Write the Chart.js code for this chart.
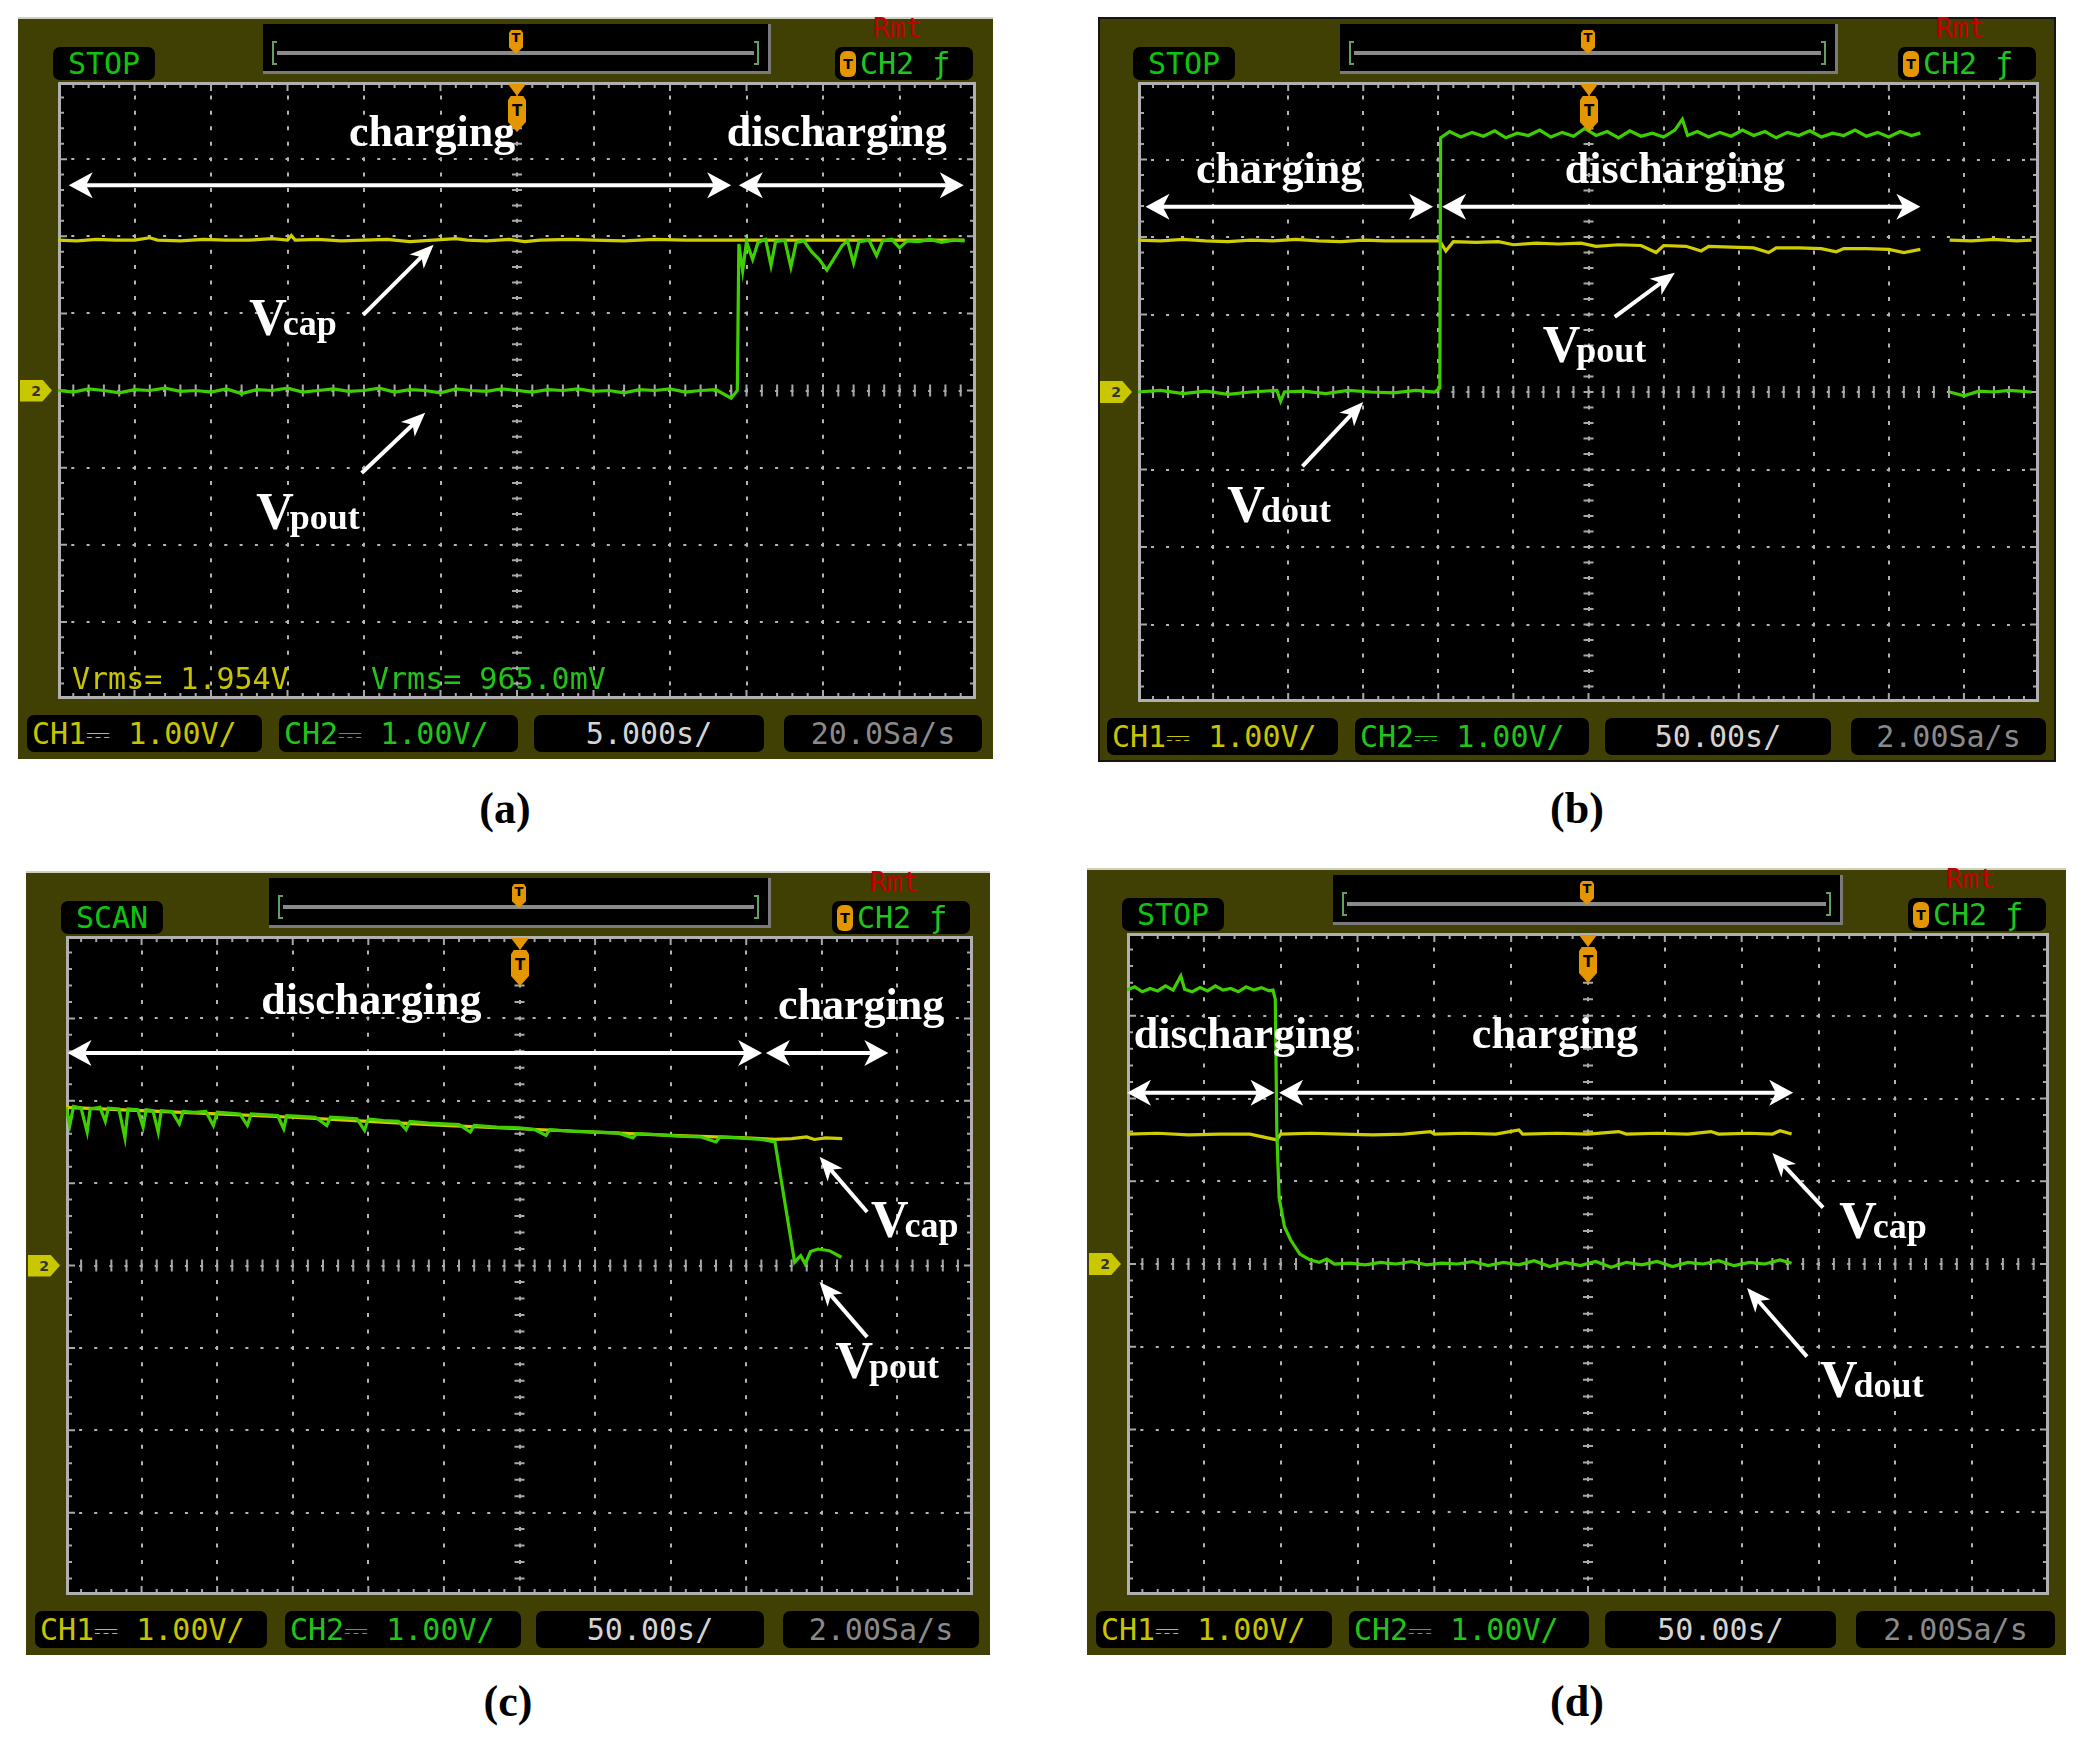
<!DOCTYPE html>
<html>
<head>
<meta charset="utf-8">
<script src="https://cdn.jsdelivr.net/npm/chart.js@4.4.1/dist/chart.umd.min.js"></script>
<style>
  html, body { margin: 0; padding: 0; background: #fff; }
  #page { position: relative; width: 2084px; height: 1744px; overflow: hidden; }
  .frame { position: absolute; background: #403f04; box-sizing: border-box; border-top: 2px solid #cfcfc0; }
  .frame.dark { border: 2px solid #151515; }
  .box { position: absolute; background: #000; border-radius: 7px; box-sizing: border-box; display: flex; align-items: center;
         font-family: "DejaVu Sans Mono", monospace; font-size: 30px; white-space: pre; overflow: hidden; padding-left: 5px; }
  .box.mid { justify-content: center; padding-left: 0; }
  .bar { position: absolute; background: #000; box-sizing: border-box; border-right: 3px solid #7a7a7a; border-bottom: 3px solid #7a7a7a; }
  .bar-line { position: absolute; left: 14px; right: 14px; top: 27px; height: 4px; background: #8a8a8a; }
  .bar-br { position: absolute; top: 17px; width: 5px; height: 24px; box-sizing: border-box; border: 2px solid #64a064; }
  .bar-br.l { left: 9px; border-right: none; }
  .bar-br.r { right: 9px; border-left: none; }
  .tmark { position: absolute; background: #e39600; color: #000; font: bold 13px "DejaVu Sans"; text-align: center;
           clip-path: polygon(15% 0, 85% 0, 100% 12%, 100% 72%, 50% 100%, 0 72%, 0 12%); }
  .tri { position: absolute; background: #e39600; clip-path: polygon(0 0, 100% 0, 50% 100%); }
  .ticon { display: inline-block; width: 16px; height: 26px; border-radius: 6px; background: #e39600; color: #000;
           font: bold 14px "DejaVu Sans"; text-align: center; line-height: 26px; margin-right: 4px; }
  .chmark { position: absolute; background: #c9c700; color: #333; font: bold 14px "DejaVu Sans"; line-height: 22px; text-align: center;
            clip-path: polygon(0 0, 70% 0, 100% 50%, 70% 100%, 0 100%); }
  .rmt { position: absolute; color: #c40000; font: 27px "DejaVu Sans Mono"; }
  .rms { position: absolute; font: 30px "DejaVu Sans Mono"; white-space: pre; }
  .cap { position: absolute; font: bold 44px "Liberation Serif"; color: #000; transform: translate(-50%, -50%); }
  canvas.scr { position: absolute; background: #000; }
</style>
</head>
<body>
<div id="page"></div>
<script>
"use strict";

// x in screen divisions (0..12), y in volts (1.00 V/div, 0 V at screen centre)
const A_VCAP = [[0.00,1.95],[0.25,1.94],[0.50,1.96],[0.75,1.95],[1.00,1.95],[1.20,1.98],[1.30,1.95],[1.60,1.94],[1.90,1.96],[2.20,1.95],
  [2.50,1.95],[2.80,1.97],[3.00,1.95],[3.05,2.01],[3.10,1.95],[3.40,1.96],[3.70,1.94],[4.00,1.95],[4.30,1.96],[4.60,1.93],[4.90,1.95],
  [5.20,1.97],[5.35,1.95],[5.60,1.94],[5.90,1.96],[6.10,1.93],[6.30,1.95],[6.70,1.96],[7.00,1.95],[7.40,1.94],[7.80,1.96],[8.20,1.95],
  [8.50,1.95],[8.85,1.95],[9.40,1.95],[10.00,1.95],[10.60,1.95],[11.20,1.95],[11.85,1.95]];
const A_VPOUT = [[0.00,0.00],[0.20,-0.02],[0.40,0.02],[0.60,0.00],[0.80,-0.03],[1.00,0.01],[1.20,0.00],[1.40,0.03],[1.60,-0.01],[1.80,0.00],
  [2.00,-0.02],[2.20,0.02],[2.40,-0.04],[2.60,0.01],[2.80,0.00],[3.00,0.03],[3.20,-0.02],[3.40,0.00],[3.60,0.02],[3.80,-0.01],[4.00,0.00],
  [4.20,0.03],[4.40,-0.02],[4.60,0.01],[4.80,0.00],[5.00,-0.03],[5.20,0.02],[5.40,0.00],[5.60,-0.01],[5.80,0.02],[6.00,0.00],[6.20,-0.02],
  [6.40,0.01],[6.60,0.00],[6.80,0.02],[7.00,-0.01],[7.20,0.00],[7.40,-0.03],[7.60,0.01],[7.80,0.00],[8.00,0.02],[8.20,-0.02],[8.40,0.00],
  [8.60,0.01],[8.80,-0.10],[8.88,0.00],[8.90,1.90],[8.95,1.55],[9.00,1.93],[9.08,1.70],[9.15,1.92],[9.25,1.96],[9.32,1.62],[9.38,1.93],
  [9.50,1.95],[9.58,1.60],[9.65,1.92],[9.75,1.94],[9.85,1.80],[9.95,1.70],[10.05,1.56],[10.15,1.72],[10.25,1.88],[10.32,1.94],[10.40,1.65],
  [10.47,1.93],[10.60,1.95],[10.70,1.75],[10.78,1.94],[10.90,1.96],[11.00,1.85],[11.10,1.94],[11.25,1.93],[11.40,1.96],[11.55,1.92],
  [11.70,1.95],[11.85,1.94]];

const B_VCAP = [[0.00,1.96],[0.30,1.95],[0.60,1.97],[0.90,1.95],[1.20,1.94],[1.50,1.96],[1.80,1.95],[2.10,1.97],[2.40,1.95],[2.70,1.94],
  [3.00,1.96],[3.30,1.95],[3.60,1.95],[4.02,1.95],[4.10,1.82],[4.20,1.94],[4.50,1.93],[4.80,1.94],[5.00,1.90],[5.30,1.92],[5.60,1.91],
  [5.90,1.92],[6.10,1.88],[6.40,1.90],[6.70,1.89],[6.90,1.80],[7.00,1.89],[7.30,1.88],[7.50,1.82],[7.60,1.88],[7.90,1.87],[8.20,1.86],
  [8.40,1.80],[8.50,1.86],[8.80,1.86],[9.10,1.85],[9.30,1.81],[9.40,1.85],[9.70,1.85],[10.00,1.84],[10.20,1.80],[10.42,1.84],[10.60,null],
  [10.81,1.96],[11.10,1.95],[11.40,1.97],[11.70,1.95],[11.90,1.96]];
const B_VDOUT = [[0.00,0.00],[0.30,0.02],[0.60,-0.02],[0.90,0.01],[1.20,-0.03],[1.50,0.00],[1.85,0.02],[1.90,-0.12],[1.95,0.00],[2.20,0.01],
  [2.50,-0.02],[2.80,0.02],[3.10,0.00],[3.40,-0.01],[3.70,0.02],[3.95,0.00],[4.02,0.05],[4.03,3.28],[4.15,3.36],[4.30,3.29],[4.45,3.35],
  [4.60,3.30],[4.75,3.37],[4.90,3.28],[5.05,3.34],[5.20,3.31],[5.35,3.38],[5.50,3.29],[5.65,3.35],[5.80,3.30],[5.95,3.40],[6.10,3.31],
  [6.25,3.36],[6.40,3.28],[6.55,3.37],[6.70,3.30],[6.85,3.34],[7.00,3.29],[7.15,3.38],[7.25,3.52],[7.32,3.31],[7.45,3.36],[7.60,3.29],
  [7.75,3.35],[7.90,3.30],[8.05,3.38],[8.20,3.31],[8.35,3.36],[8.50,3.28],[8.65,3.35],[8.80,3.31],[8.95,3.37],[9.10,3.29],[9.25,3.34],
  [9.40,3.31],[9.55,3.38],[9.70,3.30],[9.85,3.35],[10.00,3.29],[10.15,3.36],[10.30,3.31],[10.42,3.34],[10.60,null],[10.81,0.00],
  [11.00,-0.05],[11.20,0.01],[11.40,0.00],[11.60,0.02],[11.90,0.00]];

const C_VCAP = [[0.00,1.92],[1.00,1.88],[2.00,1.84],[3.00,1.80],[4.00,1.75],[5.00,1.70],[6.00,1.66],[7.00,1.62],[8.00,1.58],[9.00,1.55],
  [9.38,1.53],[9.60,1.54],[9.80,1.56],[9.90,1.53],[10.05,1.55],[10.27,1.54]];
const C_VPOUT = [[0.00,1.92],[0.05,1.70],[0.10,1.93],[0.20,1.91],[0.28,1.62],[0.32,1.90],[0.45,1.92],[0.52,1.75],[0.56,1.91],[0.70,1.90],
  [0.78,1.55],[0.82,1.90],[0.95,1.89],[1.02,1.68],[1.06,1.89],[1.15,1.88],[1.22,1.62],[1.26,1.88],[1.40,1.87],[1.50,1.72],[1.55,1.87],
  [1.70,1.86],[1.85,1.87],[1.95,1.70],[2.00,1.86],[2.15,1.85],[2.30,1.84],[2.40,1.70],[2.45,1.84],[2.65,1.83],[2.80,1.82],[2.88,1.66],
  [2.92,1.82],[3.10,1.81],[3.30,1.80],[3.45,1.70],[3.50,1.80],[3.70,1.79],[3.85,1.78],[3.95,1.64],[4.00,1.78],[4.20,1.76],[4.40,1.75],
  [4.50,1.65],[4.55,1.75],[4.80,1.73],[5.00,1.72],[5.20,1.71],[5.35,1.62],[5.40,1.70],[5.70,1.68],[6.00,1.67],[6.20,1.65],[6.35,1.58],
  [6.40,1.65],[6.70,1.63],[7.00,1.62],[7.30,1.61],[7.50,1.55],[7.55,1.60],[7.80,1.59],[8.10,1.57],[8.40,1.56],[8.60,1.50],[8.65,1.56],
  [8.90,1.55],[9.20,1.53],[9.38,1.50],[9.64,0.04],[9.72,0.12],[9.78,0.02],[9.85,0.17],[9.95,0.20],[10.10,0.18],[10.26,0.10]];

const D_VCAP = [[0.00,1.57],[0.40,1.58],[0.80,1.56],[1.20,1.57],[1.60,1.57],[1.95,1.50],[2.00,1.57],[2.40,1.58],[2.80,1.57],[3.20,1.56],
  [3.60,1.57],[3.95,1.60],[4.00,1.57],[4.40,1.58],[4.80,1.57],[5.10,1.62],[5.15,1.57],[5.60,1.58],[6.00,1.57],[6.40,1.60],[6.50,1.57],
  [6.90,1.58],[7.30,1.57],[7.60,1.60],[7.70,1.57],[8.10,1.58],[8.40,1.57],[8.50,1.61],[8.65,1.57]];
const D_VDOUT = [[0.00,3.31],[0.10,3.35],[0.20,3.29],[0.30,3.33],[0.40,3.30],[0.50,3.36],[0.60,3.31],[0.70,3.48],[0.75,3.32],[0.85,3.29],
  [0.95,3.34],[1.05,3.30],[1.15,3.36],[1.25,3.31],[1.35,3.33],[1.45,3.29],[1.55,3.35],[1.65,3.31],[1.75,3.34],[1.85,3.30],[1.90,3.31],
  [1.93,3.20],[1.95,1.60],[1.98,0.80],[2.05,0.45],[2.13,0.29],[2.25,0.12],[2.38,0.05],[2.50,0.02],[2.60,0.06],[2.70,0.00],[2.90,0.01],
  [3.10,-0.01],[3.30,0.02],[3.50,0.00],[3.70,0.03],[3.90,-0.01],[4.10,0.01],[4.30,0.00],[4.50,0.03],[4.70,-0.02],[4.90,0.02],[5.10,-0.01],
  [5.30,0.04],[5.50,-0.03],[5.70,0.02],[5.90,-0.02],[6.10,0.03],[6.30,-0.04],[6.50,0.02],[6.70,-0.01],[6.90,0.03],[7.10,-0.03],[7.30,0.02],
  [7.50,0.00],[7.70,0.04],[7.90,-0.02],[8.10,0.02],[8.30,0.00],[8.50,0.05],[8.65,0.01]];

const CH1_TRACES = [A_VCAP, B_VCAP, C_VCAP, D_VCAP];
const CH2_TRACES = [A_VPOUT, B_VDOUT, C_VPOUT, D_VDOUT];

const CAPTIONS = ["(a)", "(b)", "(c)", "(d)"];
const RUN_STATE = ["STOP", "STOP", "SCAN", "STOP"];
const TIMEBASE = ["5.000s/", "50.00s/", "50.00s/", "50.00s/"];
const SAMPLE_RATE = ["20.0Sa/s", "2.00Sa/s", "2.00Sa/s", "2.00Sa/s"];
const CH1_SCALE = "CH1\u2393 1.00V/";
const CH2_SCALE = "CH2\u2393 1.00V/";
const RMS_TEXT = ["Vrms= 1.954V", "Vrms= 965.0mV"];

const YELLOW = "#cfcc00";
const GREEN = "#3fce00";
const GRID = "#b4b4b4";

// screen rectangles on the page [left, top, width, height] and caption centres
const PANELS = [
  { screen: [58, 82, 918, 617], caption: [505, 808] },
  { screen: [1138, 82, 901, 620], caption: [1577, 808], dark: true },
  { screen: [66, 936, 907, 659], caption: [508, 1701] },
  { screen: [1127, 933, 922, 662], caption: [1577, 1701] },
];

const NOTES = [
  {
    words: [{ text: "charging", x: 4.89, y: 3.17 }, { text: "discharging", x: 10.18, y: 3.17 }],
    spans: [{ from: 0.14, to: 8.80, y: 2.66 }, { from: 8.90, to: 11.84, y: 2.66 }],
    pointers: [{ from: [3.99, 0.98], to: [4.91, 1.89] }, { from: [3.97, -1.07], to: [4.80, -0.29] }],
    names: [{ sub: "cap", x: 2.50, y: 0.72 }, { sub: "pout", x: 2.59, y: -1.79 }],
  },
  {
    words: [{ text: "charging", x: 1.88, y: 2.70 }, { text: "discharging", x: 7.15, y: 2.70 }],
    spans: [{ from: 0.10, to: 3.93, y: 2.39 }, { from: 4.05, to: 10.42, y: 2.39 }],
    pointers: [{ from: [6.35, 0.97], to: [7.15, 1.54] }, { from: [2.19, -0.96], to: [3.00, -0.13] }],
    names: [{ sub: "pout", x: 5.39, y: 0.39 }, { sub: "dout", x: 1.19, y: -1.68 }],
  },
  {
    words: [{ text: "discharging", x: 4.04, y: 3.05 }, { text: "charging", x: 10.52, y: 2.99 }],
    spans: [{ from: 0.02, to: 9.21, y: 2.58 }, { from: 9.26, to: 10.88, y: 2.58 }],
    pointers: [{ from: [10.60, 0.65], to: [9.97, 1.32] }, { from: [10.60, -0.87], to: [9.97, -0.20] }],
    names: [{ sub: "cap", x: 10.65, y: 0.35 }, { sub: "pout", x: 10.18, y: -1.37 }],
  },
  {
    words: [{ text: "discharging", x: 1.52, y: 2.61 }, { text: "charging", x: 5.57, y: 2.61 }],
    spans: [{ from: 0.00, to: 1.92, y: 2.07 }, { from: 1.98, to: 8.67, y: 2.07 }],
    pointers: [{ from: [9.06, 0.68], to: [8.40, 1.34] }, { from: [8.85, -1.12], to: [8.07, -0.29] }],
    names: [{ sub: "cap", x: 9.27, y: 0.31 }, { sub: "dout", x: 9.02, y: -1.61 }],
  },
];

function toXY(pairs) {
  return pairs.map(([x, y]) => ({ x, y }));
}

function arrowHead(ctx, x, y, ang, len, half) {
  ctx.save();
  ctx.translate(x, y);
  ctx.rotate(ang);
  ctx.beginPath();
  ctx.moveTo(0, 0);
  ctx.lineTo(-len, -half);
  ctx.lineTo(-len * 0.72, 0);
  ctx.lineTo(-len, half);
  ctx.closePath();
  ctx.fill();
  ctx.restore();
}

// edge rulers and centre-line ticks of the scope graticule
const scopeRuler = {
  id: "scopeRuler",
  beforeDatasetsDraw(chart) {
    const { ctx, chartArea: a, scales: { x, y } } = chart;
    const cx = x.getPixelForValue(6), cy = y.getPixelForValue(0);
    ctx.save();
    ctx.strokeStyle = "#a8a8a8";
    ctx.lineWidth = 2;
    ctx.beginPath();
    for (let k = 0; k <= 60; k++) {
      const px = x.getPixelForValue(k / 5), len = k % 5 === 0 ? 9 : 6;
      ctx.moveTo(px, a.top); ctx.lineTo(px, a.top + len);
      ctx.moveTo(px, a.bottom); ctx.lineTo(px, a.bottom - len);
      ctx.moveTo(px, cy - 6); ctx.lineTo(px, cy + 6);
    }
    for (let k = -20; k <= 20; k++) {
      const py = y.getPixelForValue(k / 5), len = k % 5 === 0 ? 9 : 6;
      ctx.moveTo(a.left, py); ctx.lineTo(a.left + len, py);
      ctx.moveTo(a.right, py); ctx.lineTo(a.right - len, py);
      ctx.moveTo(cx - 5, py); ctx.lineTo(cx + 5, py);
    }
    ctx.stroke();
    ctx.lineWidth = 3;
    ctx.strokeStyle = "#b0b0b0";
    ctx.strokeRect(a.left + 1.5, a.top + 1.5, a.width - 3, a.height - 3);
    ctx.restore();
  },
};

const scopeNotes = {
  id: "scopeNotes",
  afterDatasetsDraw(chart, args, opts) {
    const { ctx, scales: { x, y } } = chart;
    const px = (v) => x.getPixelForValue(v);
    const py = (v) => y.getPixelForValue(v);
    ctx.save();
    ctx.fillStyle = "#fff";
    ctx.strokeStyle = "#fff";
    ctx.lineWidth = 4;
    (opts.spans || []).forEach((s) => {
      const a = px(s.from), b = px(s.to), yy = py(s.y);
      ctx.beginPath();
      ctx.moveTo(a + 10, yy);
      ctx.lineTo(b - 10, yy);
      ctx.stroke();
      arrowHead(ctx, b, yy, 0, 24, 13);
      arrowHead(ctx, a, yy, Math.PI, 24, 13);
    });
    (opts.pointers || []).forEach((p) => {
      const x1 = px(p.from[0]), y1 = py(p.from[1]), x2 = px(p.to[0]), y2 = py(p.to[1]);
      const ang = Math.atan2(y2 - y1, x2 - x1);
      ctx.beginPath();
      ctx.moveTo(x1, y1);
      ctx.lineTo(x2 - Math.cos(ang) * 14, y2 - Math.sin(ang) * 14);
      ctx.stroke();
      arrowHead(ctx, x2, y2, ang, 24, 10);
    });
    ctx.textBaseline = "alphabetic";
    ctx.textAlign = "center";
    ctx.font = 'bold 44px "Liberation Serif"';
    (opts.words || []).forEach((w) => ctx.fillText(w.text, px(w.x), py(w.y)));
    ctx.textAlign = "left";
    (opts.names || []).forEach((n) => {
      const x0 = px(n.x), y0 = py(n.y);
      ctx.font = 'bold 52px "Liberation Serif"';
      ctx.fillText("V", x0, y0);
      const w = ctx.measureText("V").width;
      ctx.font = 'bold 36px "Liberation Serif"';
      ctx.fillText(n.sub, x0 + w - 4, y0);
    });
    ctx.restore();
  },
};

function scopeChart(canvas, i) {
  const [, , sw, sh] = PANELS[i].screen;
  const vPeriod = sh / 40, hPeriod = sw / 60;
  const axis = (min, max, dash) => ({
    type: "linear", min, max,
    ticks: { display: false, stepSize: 1 },
    grid: { color: GRID, lineWidth: 2, drawTicks: false },
    border: { display: false, dash, dashOffset: 2 },
  });
  return new Chart(canvas, {
    type: "line",
    data: {
      datasets: [
        { label: "CH2", data: toXY(CH2_TRACES[i]), borderColor: GREEN, borderWidth: 3.2, pointRadius: 0, tension: 0, order: 0 },
        { label: "CH1", data: toXY(CH1_TRACES[i]), borderColor: YELLOW, borderWidth: 3.2, pointRadius: 0, tension: 0, order: 1 },
      ],
    },
    options: {
      responsive: false,
      animation: false,
      devicePixelRatio: 1,
      layout: { padding: 0 },
      plugins: { legend: { display: false }, tooltip: { enabled: false }, scopeNotes: NOTES[i] },
      scales: {
        x: axis(0, 12, [4, vPeriod - 4]),
        y: axis(-4, 4, [3, hPeriod - 3]),
      },
    },
    plugins: [scopeRuler, scopeNotes],
  });
}

function panelHtml(p, i) {
  const [sx, sy, sw, sh] = p.screen;
  const fx = sx - 40, fy = sy - 65, fw = sw + 57, fh = sh + 125;
  const bw = Math.round(sw * 0.553), bx = Math.round(sx + sw / 2 - bw / 2);
  const by = sy + sh + 16;
  const cx = Math.round(sx + sw / 2);
  let html = `
    <div class="frame${p.dark ? " dark" : ""}" style="left:${fx}px;top:${fy}px;width:${fw}px;height:${fh}px"></div>
    <div class="box mid" style="left:${sx - 5}px;top:${sy - 35}px;width:102px;height:33px;color:#0fc40f">${RUN_STATE[i]}</div>
    <div class="bar" style="left:${bx}px;top:${sy - 58}px;width:${bw}px;height:50px">
      <div class="bar-line"></div><div class="bar-br l"></div><div class="bar-br r"></div>
      <div class="tmark" style="left:${bw / 2 - 8}px;top:6px;width:14px;height:24px">T</div>
    </div>
    <div class="rmt" style="left:${sx + sw - 103}px;top:${sy - 70}px">Rmt</div>
    <div class="box" style="left:${sx + sw - 141}px;top:${sy - 35}px;width:138px;height:33px;color:#1fc41f">
      <span class="ticon">T</span>CH2 \u0192</div>
    <div class="chmark" style="left:${sx - 38}px;top:${sy + sh / 2 - 11}px;width:32px;height:22px">2</div>
    <canvas class="scr" id="scr${i}" width="${sw}" height="${sh}" style="left:${sx}px;top:${sy}px;width:${sw}px;height:${sh}px"></canvas>
    <div class="tri" style="left:${cx - 9}px;top:${sy + 2}px;width:18px;height:12px"></div>
    <div class="tmark" style="left:${cx - 9}px;top:${sy + 14}px;width:18px;height:36px;line-height:30px;font-size:15px">T</div>
    <div class="box" style="left:${Math.round(sx - 0.034 * sw)}px;top:${by}px;width:${Math.round(0.256 * sw)}px;height:37px;color:#c8c400">${CH1_SCALE}</div>
    <div class="box" style="left:${Math.round(sx + 0.241 * sw)}px;top:${by}px;width:${Math.round(0.26 * sw)}px;height:37px;color:#22c41a">${CH2_SCALE}</div>
    <div class="box mid" style="left:${Math.round(sx + 0.518 * sw)}px;top:${by}px;width:${Math.round(0.251 * sw)}px;height:37px;color:#d4d4d4">${TIMEBASE[i]}</div>
    <div class="box mid" style="left:${Math.round(sx + 0.791 * sw)}px;top:${by}px;width:${Math.round(0.216 * sw)}px;height:37px;color:#8a8a8a">${SAMPLE_RATE[i]}</div>
    <div class="cap" style="left:${p.caption[0]}px;top:${p.caption[1]}px">${CAPTIONS[i]}</div>`;
  if (i === 0) {
    html += `
    <div class="rms" style="left:${sx + 14}px;top:${sy + sh - 38}px;color:#c8c400">${RMS_TEXT[0]}</div>
    <div class="rms" style="left:${sx + 313}px;top:${sy + sh - 38}px;color:#22c41a">${RMS_TEXT[1]}</div>`;
  }
  return html;
}

const page = document.getElementById("page");
PANELS.forEach((p, i) => {
  page.insertAdjacentHTML("beforeend", panelHtml(p, i));
  scopeChart(document.getElementById("scr" + i), i);
});
</script>
</body>
</html>
